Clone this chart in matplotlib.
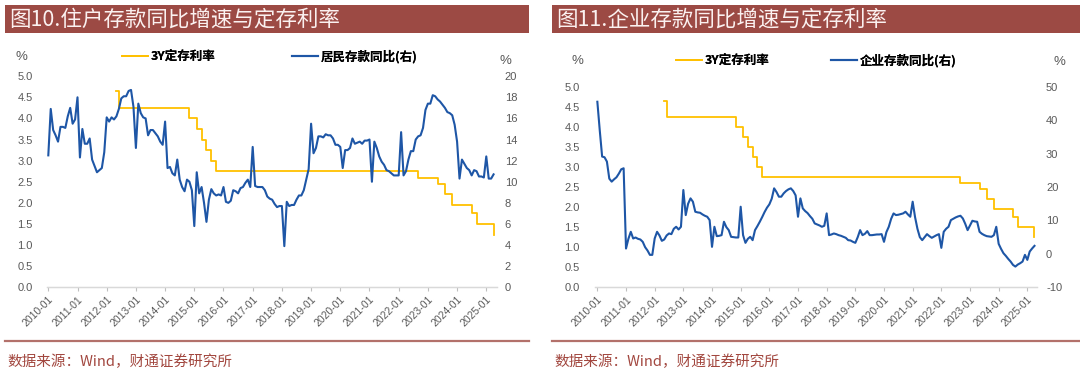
import numpy as np
import matplotlib
matplotlib.use('Agg')
import matplotlib.pyplot as plt
from matplotlib.patches import Rectangle
from matplotlib.lines import Line2D

plt.rcParams['font.family'] = ['Liberation Sans', 'Noto Sans CJK SC']
plt.rcParams['axes.unicode_minus'] = False

# x axis: monthly, 2010-01 .. 2025-04
tick_labels = ['%d-01' % y for y in range(2010, 2026)]

# 3Y time deposit rate (%), change points: month index -> new rate
rate_month = [28, 29, 58, 61, 63, 65, 67, 69, 152, 160, 163, 166, 174, 176, 183]
rate_value = [4.65, 4.25, 4.00, 3.75, 3.50, 3.25, 3.00, 2.75, 2.60, 2.45, 2.20, 1.95, 1.75, 1.50, 1.25]

# household deposits yoy (%), monthly from 2010-01
household = [
    12.5, 16.9, 14.9, 14.4, 13.8, 15.2, 15.2, 15.1, 16.2, 17.0, 15.5, 15.9,
    18.0, 12.3, 15.0, 13.6, 13.6, 14.1, 12.1, 11.5, 10.9, 11.1, 11.3, 12.8,
    16.1, 15.7, 16.1, 15.9, 16.2, 16.9, 17.9, 18.1, 18.1, 18.6, 18.7, 17.1,
    13.2, 17.4, 16.5, 16.1, 16.0, 14.4, 14.9, 14.9, 14.6, 14.3, 13.8, 13.5,
    15.7, 11.3, 11.4, 10.8, 10.6, 12.1, 10.2, 9.5, 9.1, 10.2, 10.0, 9.2,
    5.8, 10.9, 8.9, 9.5, 8.0, 6.2, 8.3, 9.3, 8.9, 8.7, 8.8, 8.7,
    9.5, 8.1, 8.0, 8.2, 9.2, 9.1, 8.9, 9.4, 9.5, 9.9, 10.2, 9.5,
    13.3, 9.6, 9.5, 9.5, 9.5, 9.2, 8.6, 8.4, 8.3, 7.9, 7.6, 7.7,
    7.7, 3.9, 8.1, 7.7, 7.8, 7.8, 8.3, 8.7, 8.7, 9.2, 10.2, 11.2,
    15.5, 12.7, 13.2, 14.3, 14.3, 14.2, 14.5, 14.4, 14.4, 14.1, 13.5, 13.5,
    13.3, 11.3, 13.0, 13.0, 13.2, 14.1, 13.6, 13.7, 13.8, 13.6, 13.9, 13.9,
    14.0, 10.0, 13.8, 13.2, 12.4, 11.9, 11.6, 11.1, 11.0, 10.8, 10.6, 10.6,
    10.6, 14.7, 10.6, 11.0, 12.1, 12.9, 12.9, 14.0, 14.3, 14.4, 15.1, 16.8,
    17.4, 17.4, 18.2, 18.1, 17.8, 17.6, 17.3, 17.0, 16.6, 16.5, 16.3, 15.4,
    13.8, 10.3, 12.1, 11.7, 11.3, 11.1, 10.6, 11.1, 11.0, 10.5, 10.5, 10.4,
    12.4, 10.3, 10.3, 10.7,
]

# corporate deposits yoy (%), monthly from 2010-01
corporate = [
    45.5, 37.0, 29.1, 28.9, 27.6, 22.5, 21.6, 22.3, 22.9, 24.0, 25.3, 25.6,
    1.6, 4.5, 6.6, 4.6, 4.9, 4.5, 4.3, 3.6, 2.0, 1.0, -0.3, -0.3,
    4.6, 6.6, 5.5, 3.9, 4.3, 5.5, 6.1, 5.9, 7.5, 8.1, 7.3, 8.1,
    19.1, 11.6, 15.0, 16.6, 15.6, 12.6, 12.4, 12.3, 11.8, 11.4, 11.1, 10.1,
    2.1, 8.1, 5.3, 5.4, 5.6, 9.6, 8.0, 7.1, 5.1, 5.0, 4.9, 4.9,
    14.1, 5.6, 3.3, 4.5, 5.1, 4.1, 7.1, 8.3, 9.6, 11.0, 12.5, 13.8,
    14.8, 16.5, 19.6, 18.5, 17.1, 17.1, 18.1, 18.8, 19.3, 19.6, 18.8, 17.5,
    11.1, 16.6, 13.6, 12.8, 12.2, 11.3, 10.5, 9.1, 8.8, 8.5, 8.1, 8.4,
    12.1, 5.6, 5.8, 6.1, 5.9, 5.6, 5.4, 5.1, 4.8, 4.1, 4.0, 3.6,
    3.3, 5.0, 7.1, 5.6, 6.0, 6.8, 5.6, 5.6, 5.7, 5.8, 5.8, 5.9,
    3.6, 6.5, 8.1, 10.5, 12.1, 11.6, 11.7, 11.9, 12.1, 12.6, 11.8, 11.1,
    15.6, 11.0, 7.5, 5.0, 4.1, 5.0, 5.9, 5.3, 4.8, 5.2, 5.6, 5.9,
    1.8, 6.6, 7.5, 8.1, 10.1, 10.5, 10.9, 11.2, 11.4, 10.6, 9.0, 7.1,
    8.5, 9.9, 9.7, 9.6, 6.6, 6.0, 5.6, 5.3, 5.2, 5.1, 5.6, 8.1,
    3.0, 1.5, 0.2, -0.6, -1.5, -2.3, -3.3, -3.8, -3.2, -2.8, -2.3, -0.3,
    -1.8, 0.7, 1.6, 2.4,
]

YELLOW = '#FFC000'
BLUE = '#1E56A6'
BAR = '#9C4A44'
RULE = '#B3716B'
GREY = '#595959'

W, H = 1080, 371
fig = plt.figure(figsize=(W / 100, H / 100), dpi=100)


def px(x0, y0, x1, y1):
    # pixel box (top-left origin) -> figure fraction rect
    return [x0 / W, 1 - y1 / H, (x1 - x0) / W, (y1 - y0) / H]


def panel(bar_x, title, source, box, xlim, lylim, lyticks, rylim, ryticks,
          series, series_name, pads, pct, leg):
    # title bar
    fig.patches.append(Rectangle((bar_x[0] / W, 1 - 33.3 / H), (bar_x[1] - bar_x[0]) / W,
                                 28.6 / H, transform=fig.transFigure,
                                 facecolor=BAR, edgecolor='none'))
    fig.text((bar_x[0] + 4) / W, 1 - 19.5 / H, title, color='#FBF1F0', fontsize=15.5,
             va='center', ha='left', fontfamily=['Noto Sans CJK SC'])
    # footer rule + source
    fig.add_artist(Line2D([bar_x[0] / W, bar_x[1] / W], [1 - 340.7 / H] * 2,
                          transform=fig.transFigure, color=RULE, lw=1.6))
    fig.text((bar_x[0] + 2) / W, 1 - 362 / H, source, color='#A2473F', fontsize=10.5,
             va='center', ha='left', fontfamily=['Noto Sans CJK SC', 'Liberation Serif'])

    ax = fig.add_axes(box)
    ax2 = ax.twinx()
    l1, = ax.step(rate_month, rate_value, where='post', color=YELLOW, lw=1.3)
    l2, = ax2.plot(np.arange(len(series)), series, color=BLUE, lw=1.5)

    ax.set_xlim(*xlim)
    ax.set_ylim(*lylim)
    ax.set_yticks(lyticks)
    ax.set_yticklabels(['%.1f' % v for v in lyticks])
    ax2.set_ylim(*rylim)
    ax2.set_yticks(ryticks)
    ax2.set_yticklabels(['%d' % v for v in ryticks])

    ax.set_xticks(np.arange(0, 181, 12))
    ax.set_xticklabels(tick_labels, rotation=45, ha='right', rotation_mode='anchor')
    ax.tick_params(axis='x', length=3, width=0.8, color='#BFBFBF', labelsize=7.5,
                   labelcolor=GREY, pad=2)
    ax.tick_params(axis='y', length=0, labelsize=8, labelcolor=GREY, pad=pads[0])
    ax2.tick_params(axis='y', length=0, labelsize=8, labelcolor=GREY, pad=pads[1])
    for a in (ax, ax2):
        for s in ('top', 'left', 'right'):
            a.spines[s].set_visible(False)
        a.spines['bottom'].set_color('#D9D9D9')
        a.spines['bottom'].set_linewidth(0.9)

    fig.text(pct[0] / W, 1 - pct[1] / H, '%', fontsize=9.5, color=GREY, va='center', ha='left')
    fig.text(pct[2] / W, 1 - pct[3] / H, '%', fontsize=9.5, color=GREY, va='center', ha='left')

    prop = {'family': ['Noto Sans CJK SC'], 'size': 9, 'weight': 'bold'}
    for h, lab, x in ((l1, '3Y定存利率', leg[0]), (l2, series_name, leg[1])):
        lg = fig.legend([h], [lab], loc='center left', bbox_to_anchor=(x / W, 1 - leg[2] / H),
                        frameon=False, borderpad=0, borderaxespad=0, handlelength=2.1,
                        handletextpad=0.2, prop=prop)
        fig.add_artist(lg)
    return ax, ax2


panel((5, 529), '图10.住户存款同比增速与定存利率', '数据来源：Wind，财通证券研究所',
      px(46.6, 76.2, 496.5, 287.3), (-0.7, 184.2),
      (0, 5), np.arange(0, 5.01, 0.5), (0, 20), np.arange(0, 21, 2),
      household, '居民存款同比(右)', (10, 6), (15.5, 57, 500, 61), (122, 292, 57))

panel((552, 1080), '图11.企业存款同比增速与定存利率', '数据来源：Wind，财通证券研究所',
      px(595.2, 86.7, 1037, 287.3), (-0.9, 184.05),
      (0, 5), np.arange(0, 5.01, 0.5), (-10, 50), np.arange(-10, 51, 10),
      corporate, '企业存款同比(右)', (11, 6.5), (571, 61, 1053, 62), (676, 831, 61))

fig.savefig('out.png', dpi=100)
